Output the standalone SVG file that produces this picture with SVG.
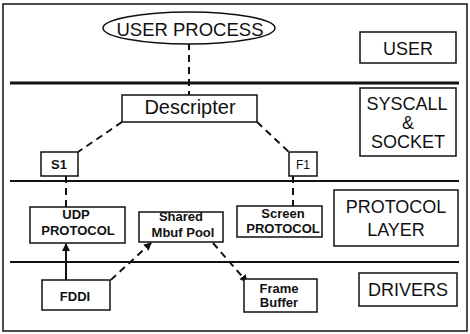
<svg xmlns="http://www.w3.org/2000/svg" width="470" height="334" viewBox="0 0 470 334">
<style>
.box{fill:#fff;stroke:#111;stroke-width:1.5}
.t{font-family:"Liberation Sans",Arial,sans-serif;fill:#111;text-anchor:middle}
.big{font-size:18px}
.sm{font-size:13px;font-weight:bold}
.dash{stroke:#111;stroke-width:2;stroke-dasharray:7,5;fill:none}
.sep{stroke:#111;fill:none}
</style>
<defs>
<marker id="ah" markerWidth="8" markerHeight="8" refX="7" refY="4" orient="auto" markerUnits="userSpaceOnUse">
<path d="M0,0 L8,4 L0,8 z" fill="#111"/>
</marker>
</defs>
<rect x="3" y="4" width="464" height="327" fill="#fff" stroke="#111" stroke-width="1.5"/>
<line class="sep" x1="10" y1="83" x2="459" y2="83" stroke-width="3"/>
<line class="sep" x1="10" y1="181" x2="459" y2="181" stroke-width="2"/>
<line class="sep" x1="10" y1="262" x2="459" y2="262" stroke-width="2"/>
<g id="connectors">
<line class="dash" x1="189" y1="43" x2="189" y2="95"/>
<line class="dash" x1="122" y1="122" x2="78" y2="152"/>
<line class="dash" x1="257" y1="122" x2="289" y2="152"/>
<line class="dash" x1="66" y1="176" x2="66" y2="207"/>
<line class="dash" x1="293" y1="176" x2="293" y2="206"/>
<line x1="66" y1="280" x2="66" y2="244" stroke="#111" stroke-width="2" marker-end="url(#ah)"/>
<line class="dash" x1="102" y1="288" x2="151" y2="243" marker-end="url(#ah)"/>
<line class="dash" x1="213" y1="243" x2="247" y2="282" marker-end="url(#ah)"/>
</g>
<g id="user-process">
<ellipse cx="189" cy="28" rx="86" ry="16" fill="#fff" stroke="#111" stroke-width="1.5"/>
<text class="t" x="190" y="36" font-size="18.5">USER PROCESS</text>
</g>
<g id="user">
<rect class="box" x="360" y="32" width="96" height="31"/>
<text class="t big" x="408" y="55">USER</text>
</g>
<g id="syscall">
<rect class="box" x="360" y="88" width="96" height="68"/>
<text class="t big" x="407" y="110">SYSCALL</text>
<text class="t big" x="408" y="129">&amp;</text>
<text class="t big" x="408" y="148">SOCKET</text>
</g>
<g id="descripter">
<rect class="box" x="122" y="95" width="135" height="27"/>
<text class="t" x="190" y="114" font-size="20">Descripter</text>
</g>
<g id="s1">
<rect class="box" x="41" y="152" width="37" height="24"/>
<text class="t sm" x="59" y="169">S1</text>
</g>
<g id="f1">
<rect class="box" x="289" y="152" width="28" height="24"/>
<text class="t" x="303" y="169" font-size="12">F1</text>
</g>
<g id="udp">
<rect class="box" x="30" y="207" width="95" height="36"/>
<text class="t sm" x="76" y="219">UDP</text>
<text class="t sm" x="78" y="235">PROTOCOL</text>
</g>
<g id="mbuf">
<rect class="box" x="139" y="212" width="84" height="30"/>
<text class="t sm" x="181" y="221">Shared</text>
<text class="t sm" x="183" y="237">Mbuf Pool</text>
</g>
<g id="screen">
<rect class="box" x="237" y="206" width="85" height="31"/>
<text class="t sm" x="283" y="218">Screen</text>
<text class="t sm" x="283" y="233">PROTOCOL</text>
</g>
<g id="protocol-layer">
<rect class="box" x="334" y="190" width="124" height="56"/>
<text class="t big" x="396" y="213">PROTOCOL</text>
<text class="t big" x="396" y="236">LAYER</text>
</g>
<g id="fddi">
<rect class="box" x="42" y="280" width="68" height="30"/>
<text class="t sm" x="75" y="301">FDDI</text>
</g>
<g id="framebuffer">
<rect class="box" x="244" y="279" width="73" height="33"/>
<text class="t sm" x="279" y="293">Frame</text>
<text class="t sm" x="279" y="307">Buffer</text>
</g>
<g id="drivers">
<rect class="box" x="359" y="273" width="98" height="33"/>
<text class="t big" x="408" y="296">DRIVERS</text>
</g>
</svg>
